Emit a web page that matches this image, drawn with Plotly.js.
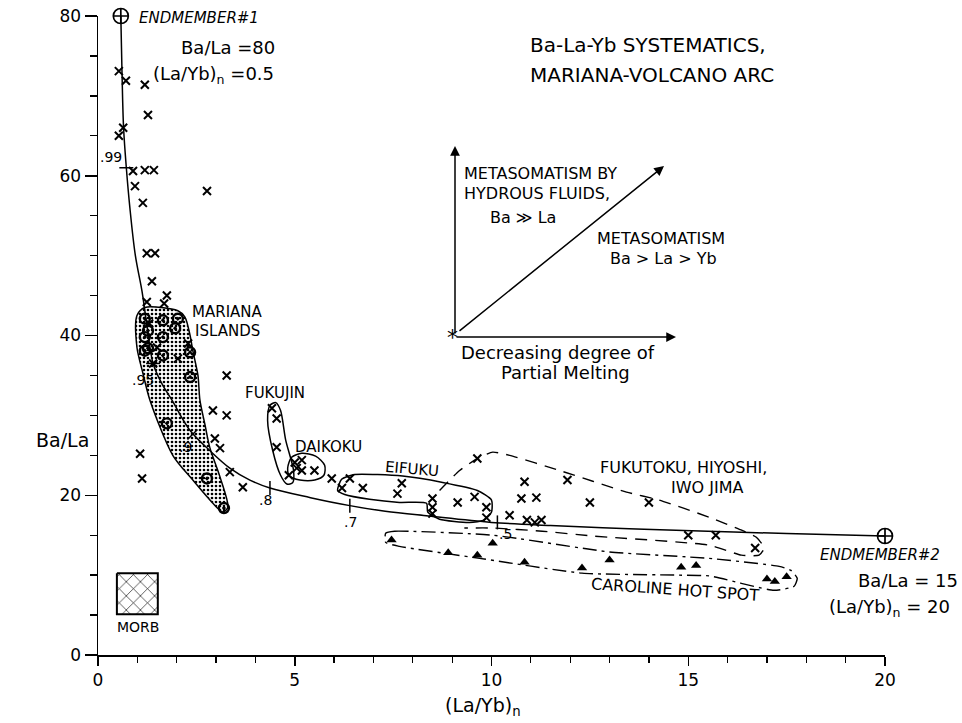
<!DOCTYPE html>
<html><head><meta charset="utf-8">
<script src="https://cdn.plot.ly/plotly-3.0.1.min.js"></script>
<style>html,body{margin:0;padding:0;background:#fff}</style>
</head><body>
<div id="chart" style="width:962px;height:723px"></div>
<script>
// ---- data ----
const mixCurveX = [0.58,0.61,0.65,0.72,0.81,0.95,1.12,1.25,1.4,1.62,1.88,2.34,2.84,3.35,3.86,4.37,5.4,6.4,7.3,8.4,10.0,11.5,13.5,15.5,17.5,20];
const mixCurveY = [80,73,66,61,56,50,45.5,41,36.5,34,31.9,28.1,25.6,23.4,21.9,20.9,19.7,18.7,18.0,17.4,16.6,16.2,15.8,15.5,15.2,14.9];

const fracX = [0.72,1.4,2.4,4.37,6.4,10.15];
const fracY = [61,36.5,27.6,20.9,18.7,16.6];
const fracLabels = ['.99','.95','.9','.8','.7','.5'];

const endX = [0.58,20];
const endY = [80,14.9];

const arcX = [0.53,0.71,1.19,1.27,0.64,0.53,0.89,1.19,1.42,0.94,2.77,1.14,1.24,1.45,1.37,1.75,1.24,1.68,
  1.4,2.03,2.29,1.5,1.3,
  3.27,2.92,3.27,1.07,1.12,2.97,3.1,3.35,3.68,
  4.42,4.54,4.54,4.85,
  5.0,5.18,5.05,5.18,5.5,5.94,
  6.2,6.4,6.73,7.72,7.61,8.5,8.5,8.5,9.14,9.57,9.87,9.87,
  9.64,10.84,11.93,10.76,11.14,12.5,14.0,10.46,10.9,11.1,11.27,15.0,15.7,16.7];
const arcY = [73.1,71.9,71.4,67.6,66,65,60.6,60.7,60.7,58.7,58.1,56.6,50.3,50.3,46.8,45,44.2,44,
  36.5,37.1,39,38.5,41.5,
  35,30.6,30,25.2,22.1,27.1,25.9,22.9,21,
  30.9,29.6,26,22.5,
  24.1,24.4,23.4,23.1,23.1,22.1,
  20.9,22.1,20.9,21.5,20.2,19.6,18.5,17.7,19.1,19.8,18.5,17.2,
  24.6,21.7,21.9,19.6,19.7,19.1,19.1,17.5,16.9,16.6,16.9,15,15,13.4];

const marianaX = [1.19,1.65,2.03,1.96,1.27,1.19,1.65,1.27,1.65,1.19,2.34,2.34,1.75,2.77,3.2];
const marianaY = [42.1,41.9,42.1,40.9,40.6,39.8,39.8,38.4,37.5,38.1,37.9,34.8,29,22.1,18.4];

const carolineX = [7.46,8.9,9.64,10.03,10.84,12.3,13.0,14.82,15.2,17.0,17.2,17.5];
const carolineY = [14.4,12.8,12.5,14.0,11.6,10.9,11.9,11.0,11.2,9.5,9.2,9.8];

// envelopes (outline points)
const marianaEnvX = [0.99,1.19,2.03,2.21,2.34,2.41,2.54,2.59,2.72,2.84,3.10,3.30,3.17,2.92,2.41,1.90,1.32,1.14,0.99,0.99];
const marianaEnvY = [42.5,43.5,43.1,42.3,40,38.1,35,31.9,28.8,26,22.3,18.5,17.9,19,21.9,25,31.9,35.3,38.5,42.5];
const fukujinEnvX = [4.37,4.52,4.64,4.77,4.97,4.95,4.8,4.64,4.44,4.31,4.37];
const fukujinEnvY = [31.25,31.6,30.6,26.9,23.1,21.6,21.4,22.5,25.6,29.4,31.25];
const daikokuEnvX = [4.82,4.92,5.18,5.53,5.76,5.74,5.51,5.13,4.87,4.82];
const daikokuEnvY = [23.4,24.75,25.25,24.9,23.75,22.5,21.9,21.9,22.4,23.4];
const eifukuEnvX = [6.09,6.19,6.52,7.74,8.76,9.64,10.0,10.0,9.82,9.44,8.68,8.38,8.35,7.66,6.9,6.27,6.09];
const eifukuEnvY = [20.6,22,22.6,22.4,21.6,20.6,19.4,17.9,16.9,16.6,17,17.9,19,19.1,19.5,20.1,20.6];
const fukutokuEnvX = [8.68,9.19,9.64,10.03,10.46,11.73,13.43,14.26,15.53,16.37,16.73,16.93,16.8,16.35,15.53,12.56,11.29,10.03,9.31];
const fukutokuEnvY = [20.6,23.1,24.6,25.4,25,23.1,20.4,19.4,17.25,15.6,14.75,13.4,12.5,12.5,13.75,14.9,15.5,15.9,15.9];
const carolineEnvX = [7.31,7.54,10.03,13.0,15.53,17.31,17.61,17.77,17.69,17.18,15.53,14.77,12.3,9.7,7.66,7.31,7.31];
const carolineEnvY = [15.25,15.5,15.0,12.9,12.1,11.1,10.6,9.6,8.6,8.1,9.9,10.0,10.25,12.1,13.6,14.1,15.25];
const morbX = [0.48,1.52,1.52,0.48,0.48];
const morbY = [10.25,10.25,5.1,5.1,10.25];

const xTickVals = [0,5,10,15,20];
const yTickVals = [0,20,40,60,80];

// ---- drawing ----
const F = 'DejaVu Sans, sans-serif';
const K = '#000';
const env = (x,y,extra) => Object.assign({x:x,y:y,type:'scatter',mode:'lines',hoverinfo:'skip',
  line:{color:K,width:1.5,shape:'spline',smoothing:0.8}}, extra||{});

const traces = [
  env(marianaEnvX, marianaEnvY, {fill:'toself', fillcolor:'rgba(0,0,0,0)',
    fillpattern:{shape:'.', fgcolor:'#000', bgcolor:'#fff', size:4, solidity:0.35}}),
  env(morbX, morbY, {line:{color:K,width:2}, fill:'toself',
    fillpattern:{shape:'x', fgcolor:'#000', bgcolor:'#fff', size:10, solidity:0.12}}),
  env(fukujinEnvX, fukujinEnvY),
  env(daikokuEnvX, daikokuEnvY),
  env(eifukuEnvX, eifukuEnvY, {line:{color:K,width:1.5,shape:'spline',smoothing:0.6}}),
  env(fukutokuEnvX, fukutokuEnvY, {line:{color:K,width:1.4,dash:'12px,8px',shape:'spline',smoothing:0.5}}),
  env(carolineEnvX, carolineEnvY, {line:{color:K,width:1.4,dash:'14px,5px,3px,5px',shape:'spline',smoothing:0.5}}),
  {x:mixCurveX, y:mixCurveY, type:'scatter', mode:'lines', line:{color:K,width:1.5,shape:'spline'}, hoverinfo:'skip', cliponaxis:false},
  {x:fracX, y:fracY, type:'scatter', mode:'markers', hoverinfo:'skip',
    marker:{symbol:['line-ew','line-ew','line-ne','line-ns','line-ns','line-ns'], size:10, color:K, line:{color:K,width:1.5}}},
  {x:arcX, y:arcY, type:'scatter', mode:'markers', hoverinfo:'skip',
    marker:{symbol:'x-thin-open', size:8, color:K, line:{color:K,width:2}}},
  {x:marianaX, y:marianaY, type:'scatter', mode:'markers', hoverinfo:'skip',
    marker:{symbol:'circle-open-dot', size:10, color:K, line:{color:K,width:2.4}}},
  {x:carolineX, y:carolineY, type:'scatter', mode:'markers', hoverinfo:'skip',
    marker:{symbol:'triangle-up', size:9, color:K}},
  {x:endX, y:endY, type:'scatter', mode:'markers', hoverinfo:'skip', cliponaxis:false,
    marker:{symbol:'circle-cross-open', size:15, color:K, line:{color:K,width:1.7}}}
];

// pixel -> paper helper for placing text
const P = (px,py) => ({x:(px-98)/787, y:(655-py)/639});
function T(px,py,text,size,o){
  const p=P(px,py);
  return Object.assign({x:p.x,y:p.y,xref:'paper',yref:'paper',text:text,showarrow:false,
    font:{family:F,size:size||14,color:K},xanchor:'center',yanchor:'middle'},o||{});
}
function A(tx,ty,hx,hy){
  const t=P(tx,ty), h=P(hx,hy);
  return {x:h.x,y:h.y,ax:t.x,ay:t.y,xref:'paper',yref:'paper',axref:'paper',ayref:'paper',text:'',
    showarrow:true,arrowhead:2,arrowsize:1.3,arrowwidth:1.5,arrowcolor:K};
}

const annotations = [
  T(528,45,'Ba-La-Yb SYSTEMATICS,',20,{xanchor:'left'}),
  T(528,75,'MARIANA-VOLCANO ARC',20,{xanchor:'left'}),
  T(137,18,'<i>ENDMEMBER#1</i>',15,{xanchor:'left'}),
  T(228,47,'Ba/La =80',18),
  T(213,75,'(La/Yb)<sub>n</sub> =0.5',18),
  T(190,312,'MARIANA',15,{xanchor:'left'}),
  T(193,331,'ISLANDS',15,{xanchor:'left'}),
  T(243,393,'FUKUJIN',15,{xanchor:'left'}),
  T(293,447,'DAIKOKU',15,{xanchor:'left'}),
  T(412,469,'EIFUKU',15,{textangle:5}),
  T(683,467,'FUKUTOKU, HIYOSHI,',16),
  T(707,487,'IWO JIMA',16),
  T(675,589,'CAROLINE HOT SPOT',16,{textangle:4}),
  T(818,555,'<i>ENDMEMBER#2</i>',15,{xanchor:'left'}),
  T(908,580,'Ba/La = 15',18),
  T(889,608,'(La/Yb)<sub>n</sub> = 20',18),
  T(138,627,'MORB',14),
  T(462,173,'METASOMATISM BY',16,{xanchor:'left'}),
  T(462,193,'HYDROUS FLUIDS,',16,{xanchor:'left'}),
  T(488,217,'Ba ≫ La',16,{xanchor:'left'}),
  T(595,238,'METASOMATISM',16,{xanchor:'left'}),
  T(608,258,'Ba > La > Yb',16,{xanchor:'left'}),
  T(558,352,'Decreasing degree of',18),
  T(565,372,'Partial Melting',18),
  T(452,338,'*',22),
  T(62,440,'Ba/La',19),
  T(483,706,'(La/Yb)<sub>n</sub>',19),
  A(455,335,455,146),
  A(455,337,676,337),
  A(458,332,664,166)
];
const fracPix = [[111,157],[143,380],[185,447],[265,500],[350,522],[505,534]];
fracLabels.forEach((s,i)=>annotations.push(T(fracPix[i][0],fracPix[i][1],s,14)));

const layout = {
  width:962, height:723,
  margin:{l:98,r:77,t:16,b:68},
  paper_bgcolor:'#fff', plot_bgcolor:'#fff',
  showlegend:false,
  font:{family:F,color:K},
  xaxis:{range:[0,20], tickvals:xTickVals, ticktext:xTickVals.map(String), showgrid:false, zeroline:false,
    showline:true, linecolor:K, linewidth:1.5, ticks:'outside', ticklen:9, tickwidth:1.5, tickcolor:K,
    tickfont:{family:F,size:17,color:K},
    minor:{dtick:1, ticks:'outside', ticklen:6, tickwidth:1.3, tickcolor:K, showgrid:false}},
  yaxis:{range:[0,80], tickvals:yTickVals, ticktext:yTickVals.map(String), showgrid:false, zeroline:false,
    showline:true, linecolor:K, linewidth:1.5, ticks:'outside', ticklen:12, tickwidth:1.5, tickcolor:K,
    tickfont:{family:F,size:17,color:K},
    minor:{dtick:5, ticks:'outside', ticklen:7, tickwidth:1.3, tickcolor:K, showgrid:false}},
  annotations:annotations
};

Plotly.newPlot('chart', traces, layout, {staticPlot:true});
</script></body></html>
